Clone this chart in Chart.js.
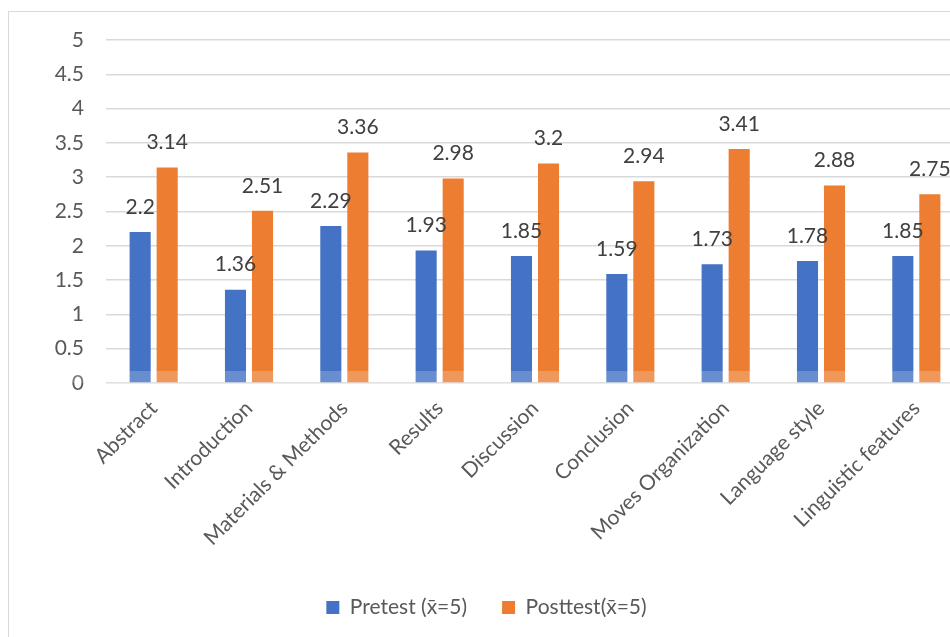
<!DOCTYPE html>
<html>
<head>
<meta charset="utf-8">
<script src="https://cdn.jsdelivr.net/npm/chart.js@4/dist/chart.umd.min.js"></script>
<style>
  html, body { margin: 0; padding: 0; background: #ffffff; overflow: hidden; width: 950px; height: 637px; }
  #frame { position: absolute; left: 8px; top: 11px; width: 1000px; height: 660px; border: 1px solid #d9d9d9; }
  canvas { position: absolute; left: 0; top: 0; }
</style>
</head>
<body>
<div id="frame"><canvas id="c" width="975" height="626"></canvas></div>
<script>
const categories = ["Abstract", "Introduction", "Materials & Methods", "Results", "Discussion", "Conclusion", "Moves Organization", "Language style", "Linguistic features"];
const pretest = [2.2, 1.36, 2.29, 1.93, 1.85, 1.59, 1.73, 1.78, 1.85];
const posttest = [3.14, 2.51, 3.36, 2.98, 3.2, 2.94, 3.41, 2.88, 2.75];
const seriesNames = ["Pretest (x\u0304=5)", "Posttest(x\u0304=5)"];

const FONT = "Lato, 'Open Sans', sans-serif";

const valueLabels = {
  id: 'valueLabels',
  afterDatasetsDraw(chart) {
    const ctx = chart.ctx;
    ctx.save();
    ctx.font = "21px " + FONT;
    ctx.fillStyle = '#404040';
    ctx.textAlign = 'center';
    ctx.textBaseline = 'middle';
    chart.data.datasets.forEach((ds, i) => {
      const meta = chart.getDatasetMeta(i);
      meta.data.forEach((el, j) => {
        ctx.fillText(String(ds.data[j]), el.x, el.y - 25);
      });
    });
    // faint watermark band at the bottom of the bars
    const a = chart.chartArea;
    ctx.fillStyle = 'rgba(255,255,255,0.2)';
    ctx.fillRect(0, a.bottom - 12, chart.width, 12);
    ctx.restore();
  }
};

new Chart(document.getElementById('c'), {
  type: 'bar',
  data: {
    labels: categories,
    datasets: [
      { label: seriesNames[0], data: pretest, backgroundColor: '#4472C4' },
      { label: seriesNames[1], data: posttest, backgroundColor: '#ED7D31' }
    ]
  },
  options: {
    responsive: false,
    animation: false,
    events: [],
    layout: { autoPadding: false, padding: { top: 28, right: 20, left: 0, bottom: 10 } },
    datasets: { bar: { categoryPercentage: 0.567, barPercentage: 0.78 } },
    scales: {
      x: {
        grid: { display: false, drawTicks: false },
        border: { display: false },
        ticks: { color: '#595959', font: { family: FONT, size: 21 }, maxRotation: 45, minRotation: 45, padding: 13, autoSkip: false },
        afterFit(scale) { scale.height = 179; }
      },
      y: {
        min: 0, max: 5,
        ticks: {
          stepSize: 0.5, color: '#595959', font: { family: FONT, size: 21 }, padding: 22,
          callback: (v) => String(Math.round(v * 10) / 10)
        },
        grid: { color: '#d9d9d9', lineWidth: 1.5, drawTicks: false },
        border: { display: false },
        afterFit(scale) { scale.width = 97; scale.paddingTop = 0; scale.paddingBottom = 0; }
      }
    },
    plugins: {
      legend: {
        position: 'bottom',
        labels: { color: '#595959', font: { family: FONT, size: 21 }, boxWidth: 13, boxHeight: 13, padding: 35 }
      },
      tooltip: { enabled: false }
    }
  },
  plugins: [valueLabels]
});
</script>
</body>
</html>
